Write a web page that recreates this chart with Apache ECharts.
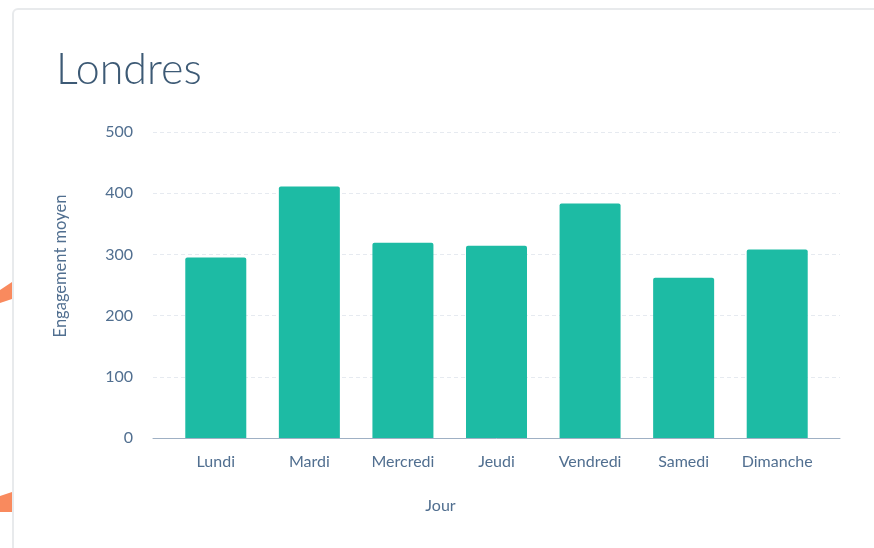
<!DOCTYPE html>
<html><head><meta charset="utf-8">
<script src="https://cdn.jsdelivr.net/npm/echarts@6/dist/echarts.min.js"></script>
<style>html,body{margin:0;padding:0;background:#fff}#c{width:874px;height:548px}</style>
</head><body><div id="c"></div>
<script>
const titleText = "Londres";
const categories = ["Lundi","Mardi","Mercredi","Jeudi","Vendredi","Samedi","Dimanche"];
const values = [295, 411, 319, 314, 383, 262, 308];
const yTicks = {min: 0, max: 500, interval: 100};
const xName = "Jour";
const yName = "Engagement moyen";

const chart = echarts.init(document.getElementById('c'));
const font = 'Lato, "Open Sans", sans-serif';
const labelColor = '#516f90';
chart.setOption({
  animation: false,
  backgroundColor: '#fff',
  graphic: [
    {type:'rect', shape:{x:13,y:9,width:900,height:600,r:5}, style:{fill:'#fff',stroke:'#e8eaec',lineWidth:2}, z:-10},
    {type:'polygon', shape:{points:[[0,290],[12,282],[12,299],[0,303]]}, style:{fill:'#f98a5e'}, z:-5},
    {type:'polygon', shape:{points:[[0,496],[12,492],[12,512],[0,512]]}, style:{fill:'#f98a5e'}, z:-5}
  ],
  title: {text: titleText, left: 51, top: 44, textStyle:{fontFamily:font, fontSize:43, fontWeight:300, color:'#3d5a75'}},
  grid: [
    {left:153, right:34, top:132, bottom:110},
    {left:169, right:50, top:132, bottom:110}
  ],
  xAxis: [{
    gridIndex:0, type:'value', min:0, max:1,
    name: xName, nameLocation:'middle', nameGap: 60,
    nameTextStyle:{fontFamily:font, fontSize:16, color:labelColor, padding:[0,112,0,0]},
    axisLine:{show:true, lineStyle:{color:'#9fb0c4', width:1}},
    axisTick:{show:false}, axisLabel:{show:false}, splitLine:{show:false}
  },{
    gridIndex:1, type:'category', data: categories,
    axisLine:{show:false}, axisTick:{show:false},
    axisLabel:{fontFamily:font, fontSize:16, color:labelColor, margin:16}
  }],
  yAxis: [{
    gridIndex:0, type:'value', min:yTicks.min, max:yTicks.max, interval:yTicks.interval,
    name: yName, nameLocation:'middle', nameGap: 84,
    nameTextStyle:{fontFamily:font, fontSize:16.5, color:labelColor, padding:[0,0,0,38]},
    axisLine:{show:false}, axisTick:{show:false},
    axisLabel:{fontFamily:font, fontSize:16, color:labelColor, margin:20},
    splitLine:{lineStyle:{color:'#e6eaf0', type:[4,3], width:1}}
  },{
    gridIndex:1, type:'value', min:yTicks.min, max:yTicks.max, interval:yTicks.interval, show:false
  }],
  series: [{
    type:'bar', data: values, xAxisIndex:1, yAxisIndex:1, barWidth:61,
    itemStyle:{color:'#1dbba4', borderRadius:[2,2,0,0]}
  }]
});
</script></body></html>
